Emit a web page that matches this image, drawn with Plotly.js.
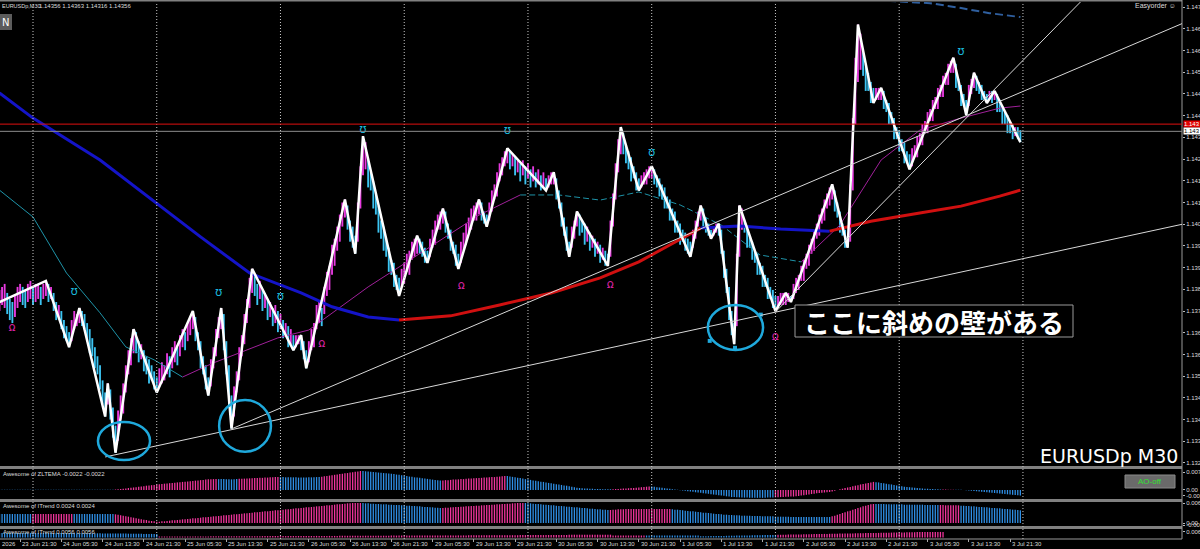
<!DOCTYPE html>
<html><head><meta charset="utf-8">
<script src="https://cdn.plot.ly/plotly-3.0.1.min.js"></script>
<style>html,body{margin:0;padding:0;background:#000;overflow:hidden}#chart{width:1200px;height:549px}</style>
</head><body><div id="chart"></div><script>
// ---- time axis (bar index, one M30 bar each) ----
const labelBars = [8,24,40,56,72,88,104,120,136,152,168,184,200,216,232,248,264,280,296,312,328,344,360,376,392];
const labelText = ["23 Jun 21:30","24 Jun 05:30","24 Jun 13:30","24 Jun 21:30","25 Jun 05:30","25 Jun 13:30","25 Jun 21:30","26 Jun 05:30","26 Jun 13:30","26 Jun 21:30","29 Jun 05:30","29 Jun 13:30","29 Jun 21:30","30 Jun 05:30","30 Jun 13:30","30 Jun 21:30","1 Jul 05:30","1 Jul 13:30","1 Jul 21:30","2 Jul 05:30","2 Jul 13:30","2 Jul 21:30","3 Jul 05:30","3 Jul 13:30","3 Jul 21:30"];
const dayStartBars = [13,61,109,157,205,253,301,349,397];
const priceTicks = [1.14768,1.14696,1.14624,1.14552,1.14480,1.14408,1.14336,1.14264,1.14192,1.14120,1.14048,1.13976,1.13904,1.13832,1.13760,1.13688,1.13616,1.13544,1.13472,1.13400,1.13328,1.13256];

// ---- candles: bar low / high in pips above 1.1300 ----
const barLowPips = [76,78,77,75,73,72,74,77,79,78, 77,79,80,78,79,80,78,80,81,79, 80,76,73,74,70,67,66,64,66,70, 71,72,71,70,66,62,61,57,55,50,
45,41,45,40,34,29,33,40,42,49, 55,58,62,62,59,60,56,55,52,53, 50,49,51,52,53,55,54,57,59,58, 61,64,63,66,68,70,66,63,57,55,
50,48,51,57,61,67,70,63,55,44, 37,41,49,53,61,65,72,77,82,81, 78,80,76,77,73,74,71,72,69,70, 67,68,64,65,63,64,65,63,60,57,
59,63,64,70,72,71,75,81,83,88, 91,96,99,104,107,103,99,97,95,99, 110,121,123,117,116,110,108,102,100,96, 94,89,88,84,83,81,84,85,89,88,
93,94,95,95,94,92,92,94,97,98, 103,103,105,102,100,96,95,91,90,92, 96,98,102,103,106,106,108,106,105,104, 106,109,113,114,119,121,124,125,123,124,
121,122,119,121,118,120,117,119,117,118, 116,117,116,117,118,118,113,110,104,101, 96,94,97,100,104,101,102,98,99,96, 97,94,95,92,93,91,91,94,104,113,
122,128,128,125,123,119,120,116,116,117, 118,118,120,120,118,117,114,113,110,110, 106,106,102,102,98,99,96,95,94,97, 100,104,106,104,102,101,100,101,102,101,
95,87,82,73,68,65,71,94,103,102, 97,97,93,92,88,88,84,84,80,80, 77,76,77,78,78,78,79,79,80,82, 83,86,86,90,91,95,96,100,101,105,
106,110,111,113,109,107,102,101,97,97, 99,116,138,152,156,154,149,149,145,145, 146,146,146,143,142,138,138,133,133,129, 129,125,125,123,124,127,127,131,131,135,
135,139,139,143,143,147,147,151,151,155, 155,150,149,144,144,141,144,148,150,149, 148,146,146,145,146,145,146,142,142,138, 138,135,135,133,134,133,132];
const barHighPips = [83,84,85,82,80,79,81,84,85,84, 83,85,86,84,85,85,84,85,86,85, 84,82,79,78,76,73,71,69,73,76, 75,77,76,75,72,70,67,64,61,58,
53,49,52,50,44,38,43,48,52,58, 63,67,70,69,66,65,63,61,60,58, 56,54,57,59,58,62,61,64,66,64, 68,70,69,72,74,76,74,69,66,61,
58,54,60,64,70,74,77,75,66,58, 48,51,56,64,68,75,80,87,90,88, 85,86,83,82,80,79,77,78,76,75, 73,72,71,70,68,68,68,68,66,63,
66,70,72,78,79,77,84,89,91,98, 100,104,108,112,113,111,106,104,101,112, 124,134,132,127,122,119,115,111,106,104, 100,97,93,92,88,87,90,92,95,96,
99,100,101,100,99,97,96,100,103,106, 108,109,110,109,105,103,99,98,95,99, 102,105,107,110,111,112,113,112,109,108, 112,116,118,122,125,127,129,130,129,128,
127,126,125,126,124,125,123,124,122,123, 121,122,120,121,122,122,120,116,112,107, 104,99,104,106,109,108,106,105,104,102, 101,100,99,98,97,96,95,106,115,125,
133,137,135,131,129,127,124,122,120,121, 122,123,124,124,123,121,120,118,117,114, 113,110,109,106,105,103,102,100,99,103, 106,109,111,110,107,105,103,104,105,105,
103,96,90,84,76,72,95,111,110,106, 104,101,99,96,95,92,91,88,87,84, 83,81,81,82,82,82,82,81,85,87, 88,91,93,95,98,100,103,105,108,110,
113,115,117,118,116,112,109,105,103,101, 118,140,160,171,168,162,158,155,152,150, 150,150,150,149,146,145,142,140,137,136, 133,132,129,128,130,131,134,135,138,139,
142,143,146,147,150,151,154,155,158,159, 160,158,153,151,148,146,151,153,155,154, 152,151,149,148,149,149,149,148,146,144, 142,141,139,138,137,137,136];

// ---- zigzag ----
const zzBar = [0,18,27,31,41,42,45,52,61,75,81,86,90,98,114,117,119,134,138,141,155,162,166,172,178,186,189,197,212,215,221,224,236,241,248,253,268,272,276,279,285,287,301,305,307,323,329,333,339,342,353,370,375,378,383,386,396];
const zzPrice = [1.1379,1.1386,1.1364,1.1377,1.1341,1.1352,1.1329,1.1370,1.1349,1.1376,1.1348,1.1377,1.1337,1.1390,1.1363,1.1368,1.1357,1.1413,1.1395,1.1434,1.1381,1.1401,1.1392,1.1410,1.1390,1.1413,1.1404,1.1430,1.1416,1.1422,1.1394,1.1409,1.1391,1.1437,1.1416,1.1424,1.1394,1.1411,1.1400,1.1405,1.1365,1.1411,1.1376,1.1382,1.1379,1.1418,1.1397,1.1471,1.1445,1.1450,1.1423,1.1460,1.1441,1.1455,1.1445,1.1449,1.1432];

// ---- moving averages (slow one blue while falling, red while rising; fast one teal falling, purple rising) ----
const maBlue1Bar = [0,13,39,61,78,97,117,129,143,155];
const maBlue1 = [1.14483,1.14400,1.14261,1.14118,1.14006,1.13886,1.13820,1.13774,1.13740,1.13730];
const maRed1Bar = [155,175,194,214,233,248,260,272];
const maRed1 = [1.13730,1.13744,1.13780,1.13820,1.13870,1.13923,1.13979,1.14035];
const maBlue2Bar = [272,287,303,322];
const maBlue2 = [1.14035,1.14042,1.14032,1.14025];
const maRed2Bar = [322,338,357,373,388,396];
const maRed2 = [1.14025,1.14058,1.14085,1.14108,1.14141,1.14161];
const maTeal1Bar = [0,13,26,39,49,60,71];
const maTeal1 = [1.14161,1.14072,1.13886,1.13754,1.13641,1.13598,1.13541];
const maPurp1Bar = [71,83,93,108,120,129,143,155,171,186,202];
const maPurp1 = [1.13541,1.13588,1.13621,1.13671,1.13697,1.13754,1.13840,1.13906,1.13996,1.14078,1.14145];
const maTeal2Bar = [202,217,233,248,264,280,295,311];
const maTeal2 = [1.14145,1.14145,1.14128,1.14155,1.14112,1.14045,1.13946,1.13923];
const maPurp2Bar = [311,326,342,357,373,388,396];
const maPurp2 = [1.13923,1.14045,1.14261,1.14360,1.14400,1.14433,1.14440];
const maNavyBar = [340,361,373,384,396];
const maNavy = [1.14791,1.14781,1.14765,1.14748,1.14735];

// ---- fractal marks ----
const upMarkBar = [29,85,109,141,197,253,373];
const upMarkPrice = [1.13823,1.13820,1.13807,1.14360,1.14357,1.14284,1.14619];
const dnMarkBar = [5,125,179,237,301];
const dnMarkPrice = [1.13704,1.13651,1.13843,1.13846,1.13674];

// ---- oscillator panes (values in units of 0.0001) ----
const ao1 = [1,1,1,1,1,1,1,1,1,1,1,1,1,1,1,1,1,1,1,1,1,1,1,1,1,1,1,1,1,1,1,1,1,1,1,1,1,1,1,1,1,1,1,1,1,
2,3,4,5,6,8,9,10,11,13,14,15,17,18,19,20,22,23,24,25,26,27,28,29,30,31,32,33,34,35,36,37,38,
39,40,41,42,42,43,43, 43,43,43,42,42,42,42,43, 44,44,45,45,46,46,47,47,48,48,49,49,50,50,51,51,
51,51,50,50,50,50,50,49,49,49,49,50,50,50,51,51, 52,54,55,57,58,60,61,63,64,66,67,69,70,72,73,75,
75,74,73,72,71,70,69,68,67,66,65,64,63,61,60, 58,56,55,53,52,50,49,48,46,45,44,42,41,40,39,38,
38,39,39,40,41,41,42,43,43,44,45,45,46,47,47,48,49,49,50,51,51,52,53,54,55,
55,53,52,50,48,47,45,43,42,40,38,37,35,33,32,30,28,27,25,23,22,20,18,17,15,13,11,9,
8,7,6,6,5,5,4,4,4,3,3,3,3, 3,4,4,5,6,6,7,8,8,9,10,11,12,13,14,
14,13,11,10,9,7,6,5,3,2,1,-1,-2,-3,-5,-6,-7,-9,-10,-11,-13,-14,-15,-17,-18,-19,-21,-22,-23,-25,-26,-28,
-28,-29,-29,-30,-30,-30,-31,-31,-31,-31,-31,-31,-31,-30,-30,-30, -29,-29,-28,-28,-27,-27,-26,-26,-25,
-24,-22,-21,-19,-18,-16,-15,-13,-12,-11,-10,-9,-8, -6,-3,0,3,5,8,10,12,15,17,19,22,24,26,28,30,32,
31,30,28,27,25,23,22,20,18,17,15,13,12, 11,10,9,8,7,6,5,5,4,4,3,3,2,2,2,1,1,1,1,1,1,0,
-1,-2,-3,-4,-5,-6,-7,-8,-9,-10,-11,-12,-13,-14,-15,-16,-17,-18,-19,-20,-21,-22];
const ao1Runs = [[0,'b'],[45,'p'],[85,'b'],[93,'p'],[109,'b'],[125,'p'],[141,'b'],[172,'p'],[197,'b'],[238,'p'],[253,'b'],[301,'p'],[340,'b'],[366,'p'],[371,'b']];
const ao2 = [27,27,27,27,27,27,27,27,27,27,27,27,27,27,27,27,27,27,27,27,27,27,27,27,27,27,27,27,27,27,27,27,27,27,27,27,27,27,27,27,27,27,27,27,27,
26,25,23,22,20,19,17,16,14,13,11,10,9,7,6,5,4,
4,5,5,6,7,8,8,9,10,11,11,12,13,14,14,15,16,17,17,18,19,20,20,21,22,23,23,24,25,26,26,27,28,29,29,30,31,32,32,33,
34,35,35,36,37,38,38,39,40,41,41,42,43,44,44,45,46,47,47,48,49,50,50,51,52,53,53,54,55,56,56,57,58,59,59,60,60,60,60,
60,59,59,58,58,57,57,56,56,56,55,55,54,54,54, 53,53,52,52,51,51,50,50,49,48,48,47,47,46,46,45,
45,46,46,47,47,48,48,49,49,50,50,51,51,52,52,53,53,54,54,55,55,56,56,57,57,58,58,59,59,60,60,60,
60,59,59,58,57,57,56,55,55,54,53,53,52,51,51,50,49,49,48,47,47,46,45,45,44,43,43,42,41,41,40,40,39,
39,40,40,41,41,41,42,42,42,42,42,42,42,42,42,42,42,42,42,42,42,42,42,42,
41,40,40,39,38,37,36,35,35,34,33,32,31,31,30,29,28,27,27,26,25,25,24,24,
23,23,23,22,22,22,22,21,21,21,21,20,20,20,20,20,19,19,19,19,19,19,18,18,18,18,18,18,18,18,18,18,18,18,18,18,18,18,
20,22,25,27,30,32,35,37,40,42,45,47,50,52,54,56,57,
57,57,57,57,56,56,56,56,56,56,56,55,55,55,55,55,55,55,55,54,54,54,54,54,54, 54,54,53,53,53,53,53,53,
52,52,51,51,50,50,49,48,48,47,47,46,45,45,44,44,43,42,42,41,40,40,39,38];
const ao2Runs = [[0,'b'],[13,'p'],[29,'b'],[45,'p'],[141,'b'],[172,'p'],[204,'b'],[237,'p'],[261,'b'],[323,'p'],[340,'b'],[365,'p'],[373,'b']];
const ao3 = [45,45,45,45,45,45,45,45,45,45,45,45,45,45,45,45,45,45,45,45,44,44,44,44,44,44,44,44,44,44,42,42,42,42,42,42,42,42,42,42,40,40,40,40,40,40,40,40,40,40,38,38,38,38,38,38,36,36,36,36,36,36,
10,10,10,10,10,10,10,10,10,10,11,11,11,11,11,11,11,11,11,11,12,12,12,12,12,12,12,12,12,12,13,13,13,13,13,13,13,13,13,13,
14,14,14,14,14,14,14,14,14,14,15,15,15,15,15,15,15,15,15,15,16,16,16,16,16,16,16,16,16,16,17,17,17,17,17,17,17,17,17,17,
18,18,18,18,18,18,18,18,18,18,19,19,19,19,19,19,19,19,19,19,20,20,20,20,20,20,20,20,20,20,21,21,21,21,21,21,21,21,21,21,
22,22,22,22,22,22,22,22,22,22,23,23,23,23,23,23,23,23,23,23,24,24,24,24,24,24,24,24,24,24,25,25,25,25,25,25,25,25,25,
28,28,28,28,28,28,28,28,28,28,28,28,28,28,28,28,28,
20,20,20,20,20,20,20,20,20,20,20,20,20,20,20,20,20,20,20,20,20,20,20,20,20,20,20,20,20,20,20,20,20,20,
12,12,13,13,14,14,15,15,16,16,17,17,18,18,19,19,20,20,21,21,22,22,23,23,24,24,25,25,26,26,27,27,28,28,29,29,30,30,31,31,
32,32,33,33,34,34,35,35,36,36,37,37,38,38,39,39,40,40,41,41,42,42,43,43,44,44,45,45,46,46,47,47,48,48,49,49,50,50,51,51,
52,52,53,53,54,54,55,55,55,56,56,56,56,56,56];
const ao3Runs = [[0,'b'],[62,'p'],[251,'b'],[302,'p']];

// ---- drawn objects ----
const redLevel = 1.14380, bidLevel = 1.14356;
const trendLines = [[41,1.13276,460,1.14050],[90,1.13369,460,1.14718],[301,1.13757,420,1.14791]];
const ellipses = [[38.2,1.13392,58.4,1.13266],[85.2,1.13465,105.3,1.13293],[274.8,1.13780,296.2,1.13631]];
const handleBar = [275.5,285.3,295.3];
const handlePrice = [1.13661,1.13638,1.13748];

// ---- pixel geometry helpers for the MT4 panes ----
const PW = 1182, PH = 539;
const fx = x => x / PW, fy = y => (PH - y) / PH;
const PINK = '#f0359c', BLUE = '#2f8fe6';
const runColors = (n, runs) => { const c = []; let r = 0; for (let i = 0; i < n; i++) { while (r + 1 < runs.length && runs[r+1][0] <= i) r++; c.push(runs[r][1] === 'p' ? PINK : BLUE); } return c; };

const N = barLowPips.length;
const idx = Array.from({length:N}, (_, i) => i);
const lowP = barLowPips.map(v => 1.13 + v / 10000);
const highP = barHighPips.map(v => 1.13 + v / 10000);
const candleCol = idx.map(i => { const m = barLowPips[i] + barHighPips[i]; const pm = i ? barLowPips[i-1] + barHighPips[i-1] : m; return m >= pm ? '#e83ae0' : '#3cc4f2'; });

const line = (x, y, color, width, dash) => ({x, y, mode:'lines', line:{color, width, dash: dash || 'solid'}, hoverinfo:'skip'});
const traces = [];
traces.push({type:'bar', x:idx, base:lowP, y:idx.map(i => highP[i] - lowP[i]), width:0.72, marker:{color:candleCol, line:{width:0}}, hoverinfo:'skip'});
traces.push(line(maNavyBar, maNavy, '#2f5f9f', 2, '8px,4px'));
traces.push(line(maTeal1Bar, maTeal1, '#1e93a8', 1));
traces.push(line(maPurp1Bar, maPurp1, '#a0209a', 1));
traces.push(line(maTeal2Bar, maTeal2, '#1e93a8', 1, '6px,3px'));
traces.push(line(maPurp2Bar, maPurp2, '#a0209a', 1));
traces.push(line(maBlue1Bar, maBlue1, '#1414c8', 3));
traces.push(line(maRed1Bar, maRed1, '#d01010', 3));
traces.push(line(maBlue2Bar, maBlue2, '#1414c8', 3));
traces.push(line(maRed2Bar, maRed2, '#d01010', 3));
traces.push(line(zzBar, zzPrice, '#ffffff', 2.5));
traces.push({x: upMarkBar, y: upMarkPrice, mode:'text', text: upMarkBar.map(()=>'ʊ'), textfont:{color:'#19b5d8', size:12, family:'DejaVu Sans'}, hoverinfo:'skip'});
traces.push({x: handleBar, y: handlePrice, mode:'markers', marker:{symbol:'square', size:4, color:'#1fa9dc'}, hoverinfo:'skip'});
traces.push({type:'bar', x:idx, y:ao1, yaxis:'y2', width:0.5, marker:{color:runColors(N, ao1Runs), line:{width:0}}, hoverinfo:'skip'});
traces.push({type:'bar', x:idx, y:ao2, yaxis:'y3', width:0.5, marker:{color:runColors(N, ao2Runs), line:{width:0}}, hoverinfo:'skip'});
traces.push({type:'bar', x:idx, y:ao3, yaxis:'y4', width:0.5, marker:{color:runColors(N, ao3Runs), line:{width:0}}, hoverinfo:'skip'});

const shapes = [];
[[466,469],[499,502],[526,529]].forEach(s => shapes.push({type:'rect', xref:'paper', yref:'paper', x0:0, x1:1, y0:fy(s[1]), y1:fy(s[0]), fillcolor:'#808080', line:{width:0}}));
shapes.push({type:'line', xref:'paper', yref:'paper', x0:0, x1:1, y0:fy(0.5), y1:fy(0.5), line:{color:'#808080', width:2}});
shapes.push({type:'line', xref:'paper', yref:'paper', x0:1, x1:1, y0:0, y1:1, line:{color:'#9a9a9a', width:1}});
shapes.push({type:'line', xref:'paper', yref:'paper', x0:0, x1:1, y0:0, y1:0, line:{color:'#9a9a9a', width:1}});
dayStartBars.forEach(b => shapes.push({type:'line', xref:'x', yref:'paper', x0:b, x1:b, y0:0, y1:fy(2), line:{color:'#c8c8c8', width:1, dash:'1px,2px'}}));
shapes.push({type:'line', xref:'paper', yref:'y', x0:0, x1:1, y0:redLevel, y1:redLevel, line:{color:'#e01010', width:1}});
shapes.push({type:'line', xref:'paper', yref:'y', x0:0, x1:1, y0:bidLevel, y1:bidLevel, line:{color:'#8c8c8c', width:1}});
trendLines.forEach(t => shapes.push({type:'line', xref:'x', yref:'y', x0:t[0], y0:t[1], x1:t[2], y1:t[3], line:{color:'#d8d8d8', width:1}}));
ellipses.forEach(e => shapes.push({type:'circle', xref:'x', yref:'y', x0:e[0], y0:e[1], x1:e[2], y1:e[3], line:{color:'#1fa9dc', width:2.5}}));
shapes.push({type:'rect', xref:'paper', yref:'paper', x0:0, x1:fx(12), y0:fy(30), y1:fy(14), fillcolor:'#5c5c5c', line:{width:0}});
shapes.push({type:'rect', xref:'paper', yref:'paper', x0:fx(1125), x1:fx(1175), y0:fy(488), y1:fy(475), fillcolor:'#6a6a6a', line:{color:'#8a8a8a', width:1}});
shapes.push({type:'rect', xref:'paper', yref:'paper', x0:fx(795), x1:fx(1073), y0:fy(337), y1:fy(305), fillcolor:'#000', line:{color:'#9a9a9a', width:1}});

const small = {family:'Liberation Sans, Arial', size:6, color:'#dcdcdc'};
const ann = [];
labelBars.forEach((b,i) => ann.push({x:b, xref:'x', y:fy(543.5), yref:'paper', text:labelText[i], showarrow:false, xanchor:'left', yanchor:'middle', font:small, xshift:0}));
ann.push({x:0, xref:'paper', y:fy(543.5), yref:'paper', text:'2026', showarrow:false, xanchor:'left', yanchor:'middle', font:small});
ann.push({x:0, xref:'paper', y:fy(6), yref:'paper', text:'EURUSDp,M30', showarrow:false, xanchor:'left', yanchor:'middle', font:{family:'Liberation Sans', size:5.5, color:'#dcdcdc'}});
ann.push({x:fx(37), xref:'paper', y:fy(6), yref:'paper', text:'1.14356 1.14363 1.14316 1.14356', showarrow:false, xanchor:'left', yanchor:'middle', font:small});
ann.push({x:fx(6), xref:'paper', y:fy(22), yref:'paper', text:'N', showarrow:false, xanchor:'center', yanchor:'middle', font:{family:'DejaVu Sans', size:10, color:'#ffffff'}});
ann.push({x:fx(1178), xref:'paper', y:fy(6), yref:'paper', text:'Easyorder ☺', showarrow:false, xanchor:'right', yanchor:'middle', font:{family:'Liberation Sans', size:7, color:'#dcdcdc'}});
ann.push({x:fx(1180), xref:'paper', y:fy(456), yref:'paper', text:'EURUSDp M30', showarrow:false, xanchor:'right', yanchor:'middle', font:{family:'DejaVu Sans', size:19, color:'#ffffff'}});
ann.push({x:fx(1150), xref:'paper', y:fy(481.5), yref:'paper', text:'AO-off', showarrow:false, xanchor:'center', yanchor:'middle', font:{family:'Liberation Sans', size:8, color:'#33e033'}});
ann.push({x:fx(934), xref:'paper', y:fy(321), yref:'paper', text:'ここに斜めの壁がある', showarrow:false, xanchor:'center', yanchor:'middle', font:{family:'Noto Sans CJK JP', size:26, color:'#ffffff', weight:700}});
ann.push({x:fx(1), xref:'paper', y:fy(474), yref:'paper', text:'Awesome of ZLTEMA -0.0022 -0.0022', showarrow:false, xanchor:'left', yanchor:'middle', font:small});
ann.push({x:fx(1), xref:'paper', y:fy(506), yref:'paper', text:'Awesome of ITrend 0.0024 0.0024', showarrow:false, xanchor:'left', yanchor:'middle', font:small});
ann.push({x:fx(1), xref:'paper', y:fy(532), yref:'paper', text:'Awesome of ITrend 0.0056 0.0056', showarrow:false, xanchor:'left', yanchor:'middle', font:small});
ann.push({x:1, xref:'paper', y:redLevel, yref:'y', text:'1.143', showarrow:false, xanchor:'left', yanchor:'middle', xshift:1, bgcolor:'#e00000', borderpad:0, font:{family:'Liberation Sans', size:6, color:'#ffffff'}});
ann.push({x:1, xref:'paper', y:bidLevel, yref:'y', text:'1.143', showarrow:false, xanchor:'left', yanchor:'middle', xshift:1, bgcolor:'#ffffff', borderpad:0, font:{family:'Liberation Sans', size:6, color:'#000000'}});
dnMarkBar.forEach((b,i) => ann.push({x:b, xref:'x', y:dnMarkPrice[i], yref:'y', text:'ʊ', showarrow:false, textangle:180, font:{family:'DejaVu Sans', size:12, color:'#d0209c'}}));

const cut = v => v.toFixed(5).slice(0,5);
const yCommon = {side:'right', showgrid:false, zeroline:false, showline:false, ticks:'outside', ticklen:2, tickcolor:'#bbbbbb', tickfont:small, fixedrange:true};
const layout = {
  width:1200, height:549, margin:{l:0, r:18, t:0, b:10}, barmode:'overlay',
  paper_bgcolor:'#000', plot_bgcolor:'#000', showlegend:false,
  xaxis:{range:[0.2,458.7], anchor:'y4', showgrid:false, zeroline:false, showline:false, tickvals:labelBars, ticktext:labelBars.map(()=>''), ticks:'outside', ticklen:3, tickcolor:'#aaaaaa', fixedrange:true},
  yaxis:Object.assign({}, yCommon, {domain:[fy(466), fy(2)], range:[1.13246,1.14785], tickvals:priceTicks, ticktext:priceTicks.map(cut)}),
  yaxis2:Object.assign({}, yCommon, {domain:[fy(499), fy(469)], range:[-35.6,83], tickvals:[70,0,-22], ticktext:['0.007','0.00','-0.00']}),
  yaxis3:Object.assign({}, yCommon, {domain:[fy(526), fy(502)], range:[-9,63], tickvals:[60,0,-6], ticktext:['0.006','0.00','-0.00']}),
  yaxis4:Object.assign({}, yCommon, {domain:[fy(538), fy(529)], range:[-5,85], tickvals:[56], ticktext:['0.006']}),
  shapes:shapes, annotations:ann
};
Plotly.newPlot('chart', traces, layout, {displayModeBar:false, staticPlot:true});
</script></body></html>
